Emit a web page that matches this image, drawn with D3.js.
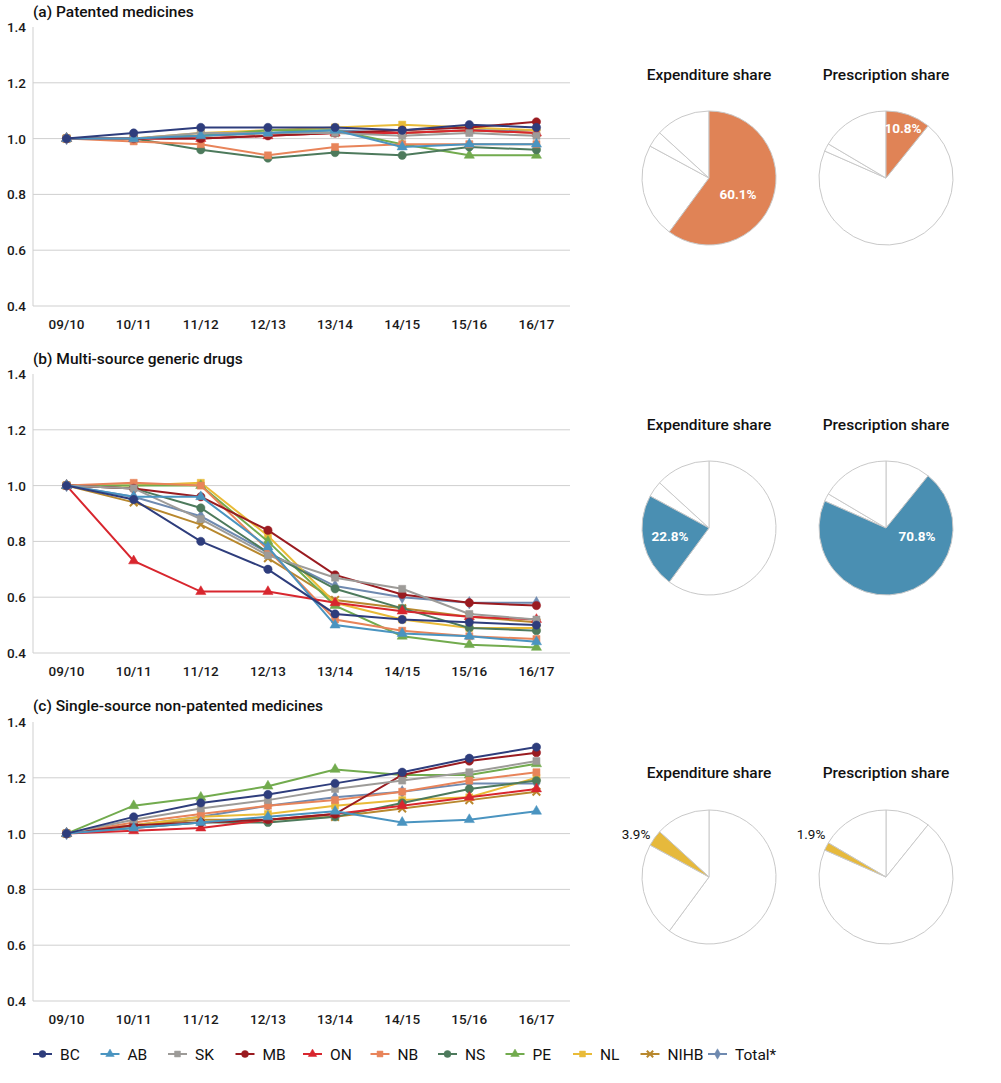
<!DOCTYPE html>
<html><head><meta charset="utf-8">
<script src="https://cdn.jsdelivr.net/npm/d3@7"></script>
<style>
body{margin:0;background:#fff;}
svg{font-family:Roboto,"DejaVu Sans",sans-serif;}
</style></head>
<body><svg id="c" width="1001" height="1083"></svg>
<script>
const years = ["09/10","10/11","11/12","12/13","13/14","14/15","15/16","16/17"];
const yTicks = [0.4,0.6,0.8,1.0,1.2,1.4];
const seriesNames = ["BC","AB","SK","MB","ON","NB","NS","PE","NL","NIHB","Total*"];
const seriesColors = ["#2e3d7c","#4a94c0","#9d9b98","#9a1b20","#d8262e","#e8845a","#4d7a5c","#72ab4e","#e9bb38","#b8882e","#6f8ab0"];
const seriesShapes = ["circle","triangle","square","circle","triangle","square","circle","triangle","square","cross","diamond"];

const panelTitles = ["(a) Patented medicines","(b) Multi-source generic drugs","(c) Single-source non-patented medicines"];

// Panel (a) values
const aBC   = [1.00,1.02,1.04,1.04,1.04,1.03,1.05,1.04];
const aAB   = [1.00,1.00,1.01,1.02,1.03,0.97,0.98,0.98];
const aSK   = [1.00,1.00,1.02,1.02,1.02,1.01,1.02,1.01];
const aMB   = [1.00,1.00,1.00,1.01,1.02,1.03,1.04,1.06];
const aON   = [1.00,1.00,1.00,1.01,1.02,1.02,1.03,1.02];
const aNB   = [1.00,0.99,0.98,0.94,0.97,0.98,0.98,0.98];
const aNS   = [1.00,1.00,0.96,0.93,0.95,0.94,0.97,0.96];
const aPE   = [1.00,1.00,1.01,1.03,1.03,0.98,0.94,0.94];
const aNL   = [1.00,1.00,1.02,1.03,1.04,1.05,1.04,1.03];
const aNIHB = [1.00,1.00,1.01,1.02,1.02,1.02,1.03,1.02];
const aTot  = [1.00,1.00,1.01,1.02,1.03,1.02,1.03,1.03];

// Panel (b) values
const bBC   = [1.00,0.95,0.80,0.70,0.54,0.52,0.51,0.50];
const bAB   = [1.00,0.96,0.96,0.78,0.50,0.47,0.46,0.44];
const bSK   = [1.00,0.99,0.88,0.75,0.67,0.63,0.54,0.52];
const bMB   = [1.00,0.99,0.96,0.84,0.68,0.61,0.58,0.57];
const bON   = [1.00,0.73,0.62,0.62,0.58,0.55,0.53,0.52];
const bNB   = [1.00,1.01,1.00,0.77,0.52,0.48,0.46,0.45];
const bNS   = [1.00,0.99,0.92,0.76,0.63,0.56,0.49,0.48];
const bPE   = [1.00,1.00,1.00,0.80,0.57,0.46,0.43,0.42];
const bNL   = [1.00,1.00,1.01,0.82,0.58,0.52,0.49,0.49];
const bNIHB = [1.00,0.94,0.86,0.74,0.59,0.56,0.53,0.51];
const bTot  = [1.00,0.96,0.89,0.76,0.64,0.60,0.58,0.58];

// Panel (c) values
const cBC   = [1.00,1.06,1.11,1.14,1.18,1.22,1.27,1.31];
const cAB   = [1.00,1.02,1.04,1.06,1.08,1.04,1.05,1.08];
const cSK   = [1.00,1.05,1.09,1.12,1.16,1.19,1.22,1.26];
const cMB   = [1.00,1.03,1.04,1.05,1.07,1.21,1.26,1.29];
const cON   = [1.00,1.01,1.02,1.05,1.07,1.10,1.13,1.16];
const cNB   = [1.00,1.04,1.07,1.10,1.12,1.15,1.19,1.22];
const cNS   = [1.00,1.02,1.04,1.04,1.06,1.11,1.16,1.19];
const cPE   = [1.00,1.10,1.13,1.17,1.23,1.21,1.21,1.25];
const cNL   = [1.00,1.03,1.06,1.07,1.10,1.12,1.13,1.20];
const cNIHB = [1.00,1.03,1.05,1.05,1.06,1.09,1.12,1.15];
const cTot  = [1.00,1.03,1.06,1.10,1.13,1.15,1.18,1.18];

const panelSeries = [
  [aBC,aAB,aSK,aMB,aON,aNB,aNS,aPE,aNL,aNIHB,aTot],
  [bBC,bAB,bSK,bMB,bON,bNB,bNS,bPE,bNL,bNIHB,bTot],
  [cBC,cAB,cSK,cMB,cON,cNB,cNS,cPE,cNL,cNIHB,cTot]
];

// Pie shares (slices: patented, multi-source generic, single-source non-patented, other)
const expenditureShare  = [60.1,22.8,3.9,13.2];
const prescriptionShare = [10.8,70.8,1.9,16.5];
const pieColors = ["#e08356","#4a8fb2","#e6b93c"];
const pieTitles = ["Expenditure share","Prescription share"];

// ---------- layout ----------
const svg = d3.select("#c");
const plotLeft = 33, plotRight = 570;
const panelTops = [27, 374, 722];
const plotH = 279;
const titleY = [17, 364, 711];
const pieCY = [178, 528, 877];
const pieCX = [709, 886];
const pieR = 67;
const pieTitleY = [80, 430, 778];
// label offsets relative to pie centre [panel][pie]
const labelPos = [[[29,16],[17,-50]],[[-39,8],[31,8]],[[-73,-43],[-75,-43]]];

const x = d3.scaleBand().domain(years).range([plotLeft, plotRight]);
const symbolFor = {
  circle: d3.symbolCircle, triangle: d3.symbolTriangle, square: d3.symbolSquare,
  cross: d3.symbolTimes, diamond: d3.symbolDiamond
};
const sizeFor = {circle:55, triangle:45, square:50, cross:40, diamond:45};

panelSeries.forEach((series, p) => {
  const top = panelTops[p];
  const y = d3.scaleLinear().domain([0.4,1.4]).range([top+plotH, top]);
  const g = svg.append("g");

  // title
  g.append("text").attr("x", 33).attr("y", titleY[p]).text(panelTitles[p])
    .attr("font-size", 15.5).attr("font-weight", 500).attr("fill", "#111");

  // gridlines
  g.selectAll("line.grid").data(yTicks.filter(t => t < 1.4)).join("line")
    .attr("x1", plotLeft).attr("x2", plotRight)
    .attr("y1", d => y(d)).attr("y2", d => y(d))
    .attr("stroke", "#cfcfcf").attr("stroke-width", 1);
  g.append("line").attr("x1", plotLeft).attr("x2", plotLeft)
    .attr("y1", y(1.4)).attr("y2", y(0.4)).attr("stroke", "#cfcfcf");

  // y labels
  g.selectAll("text.yt").data(yTicks).join("text")
    .attr("x", 26).attr("y", d => y(d) + 5).attr("text-anchor", "end")
    .attr("font-size", 13.5).attr("font-weight", 500).attr("fill", "#1a1a1a")
    .text(d => d3.format(".1f")(d));

  // x labels
  g.selectAll("text.xt").data(years).join("text")
    .attr("x", d => x(d) + x.bandwidth()/2).attr("y", y(0.4) + 23)
    .attr("text-anchor", "middle").attr("font-size", 13.5).attr("font-weight", 500).attr("fill", "#1a1a1a")
    .text(d => d);

  const line = d3.line().x((d,i) => x(years[i]) + x.bandwidth()/2).y(d => y(d));
  const order = d3.range(series.length).reverse();
  order.forEach(s => {
    const sg = g.append("g");
    sg.append("path").attr("d", line(series[s])).attr("fill", "none")
      .attr("stroke", seriesColors[s]).attr("stroke-width", 2);
    const sh = seriesShapes[s];
    sg.selectAll("path.m").data(series[s]).join("path")
      .attr("transform", (d,i) => `translate(${x(years[i]) + x.bandwidth()/2},${y(d)})`)
      .attr("d", d3.symbol().type(symbolFor[sh]).size(sizeFor[sh]))
      .attr("fill", sh === "cross" ? "none" : seriesColors[s])
      .attr("stroke", seriesColors[s]).attr("stroke-width", sh === "cross" ? 2 : 0.5);
  });

  // pies
  [expenditureShare, prescriptionShare].forEach((shares, k) => {
    const cx = pieCX[k], cy = pieCY[p];
    const pg = g.append("g").attr("transform", `translate(${cx},${cy})`);
    const arcs = d3.pie().sort(null).value(d => d)(shares);
    const arc = d3.arc().innerRadius(0).outerRadius(pieR);
    pg.selectAll("path").data(arcs).join("path")
      .attr("d", arc)
      .attr("fill", (d,i) => i === p ? pieColors[p] : "#fff")
      .attr("stroke", "#c9c9c9").attr("stroke-width", 1);
    pg.selectAll("path").filter((d,i) => i === p).raise();
    g.append("text").attr("x", cx).attr("y", pieTitleY[p]).attr("text-anchor", "middle")
      .attr("font-size", 15.5).attr("font-weight", 500).attr("fill", "#111").text(pieTitles[k]);
    const lp = labelPos[p][k];
    const inside = p < 2;
    pg.append("text").attr("x", lp[0]).attr("y", lp[1] + 5).attr("text-anchor", "middle")
      .attr("font-size", 13.5).attr("font-weight", inside ? 700 : 400)
      .attr("fill", inside ? "#fff" : "#111")
      .text(d3.format(".1f")(shares[p]) + "%");
  });
});

// legend
const lg = svg.append("g").attr("transform", "translate(33,1054)");
seriesNames.forEach((n, i) => {
  const gx = i * 67.5;
  const it = lg.append("g").attr("transform", `translate(${gx},0)`);
  it.append("line").attr("x1", 0).attr("x2", 19).attr("y1", 0).attr("y2", 0)
    .attr("stroke", seriesColors[i]).attr("stroke-width", 2);
  const sh = seriesShapes[i];
  it.append("path").attr("transform", "translate(9.5,0)")
    .attr("d", d3.symbol().type(symbolFor[sh]).size(sizeFor[sh]*0.7))
    .attr("fill", sh === "cross" ? "none" : seriesColors[i])
    .attr("stroke", seriesColors[i]).attr("stroke-width", sh === "cross" ? 2 : 0.5);
  it.append("text").attr("x", 27).attr("y", 5.5).attr("font-size", 15.5)
    .attr("fill", "#111").text(n);
});
</script></body></html>
